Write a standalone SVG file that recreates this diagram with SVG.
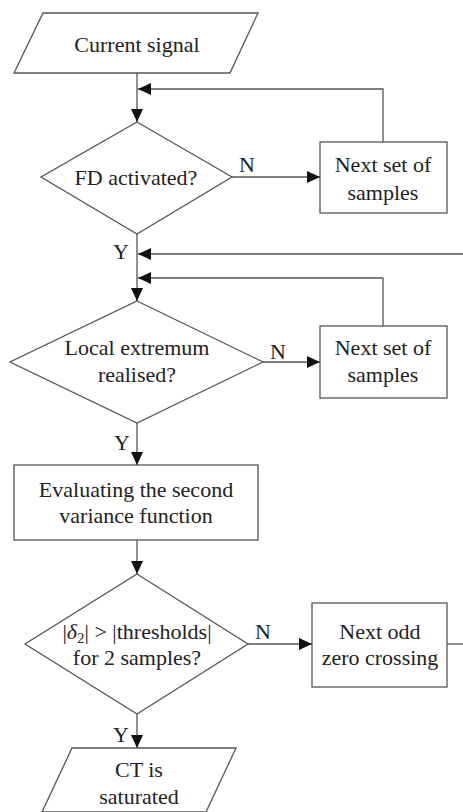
<svg xmlns="http://www.w3.org/2000/svg" width="463" height="812" viewBox="0 0 463 812">
<style>
.s{fill:#fff;stroke:#555;stroke-width:1.3}
.c{fill:none;stroke:#555;stroke-width:1.3}
text{font-family:"Liberation Serif","Times New Roman",serif;font-size:22px;fill:#222;text-anchor:middle}
</style>
<defs>
<marker id="a" markerWidth="13" markerHeight="12" refX="13" refY="6" orient="auto" markerUnits="userSpaceOnUse">
<path d="M0,0 L13,6 L0,12 Z" fill="#111"/>
</marker>
</defs>
<g id="n1"><polygon class="s" points="43,13 258,13 230,73 14,73"/><text x="137" y="52">Current signal</text></g>
<g id="n2"><polygon class="s" points="137,122 232,177 137,234 41,177"/><text x="136" y="185">FD activated?</text></g>
<g id="n3"><rect class="s" x="320" y="142" width="127" height="71"/><text x="383" y="172">Next set of</text><text x="383" y="200">samples</text></g>
<g id="n4"><polygon class="s" points="137,301 263,362 137,423 10,362"/><text x="137" y="355">Local extremum</text><text x="137" y="382">realised?</text></g>
<g id="n5"><rect class="s" x="320" y="326" width="127" height="72"/><text x="383" y="355">Next set of</text><text x="383" y="382">samples</text></g>
<g id="n6"><rect class="s" x="14" y="465" width="244" height="75"/><text x="136" y="497">Evaluating the second</text><text x="136" y="523">variance function</text></g>
<g id="n7"><polygon class="s" points="137,574 248,644 137,714 25,644"/><text x="137" y="639">|<tspan font-style="italic">δ</tspan><tspan font-size="15" dy="4">2</tspan><tspan dy="-4">| &gt; |thresholds|</tspan></text><text x="137" y="665">for 2 samples?</text></g>
<g id="n8"><rect class="s" x="312" y="603" width="135" height="84"/><text x="380" y="639">Next odd</text><text x="380" y="665">zero crossing</text></g>
<g id="n9"><polygon class="s" points="72,748 236,748 206,812 42,812"/><text x="139" y="777">CT is</text><text x="139" y="804">saturated</text></g>
<g id="connectors">
<path class="c" d="M137,73 V122" marker-end="url(#a)"/>
<path class="c" d="M383,142 V89 H138" marker-end="url(#a)"/>
<path class="c" d="M232,177 H320" marker-end="url(#a)"/>
<path class="c" d="M137,234 V301" marker-end="url(#a)"/>
<path class="c" d="M463,254 H138" marker-end="url(#a)"/>
<path class="c" d="M383,326 V278 H138" marker-end="url(#a)"/>
<path class="c" d="M263,362 H320" marker-end="url(#a)"/>
<path class="c" d="M137,423 V465" marker-end="url(#a)"/>
<path class="c" d="M137,540 V574" marker-end="url(#a)"/>
<path class="c" d="M248,644 H312" marker-end="url(#a)"/>
<path class="c" d="M447,644 H463"/>
<path class="c" d="M137,714 V748" marker-end="url(#a)"/>
<text x="247" y="172">N</text>
<text x="121" y="259">Y</text>
<text x="278" y="359">N</text>
<text x="122" y="450">Y</text>
<text x="263" y="639">N</text>
<text x="121" y="742">Y</text>
</g>
</svg>
